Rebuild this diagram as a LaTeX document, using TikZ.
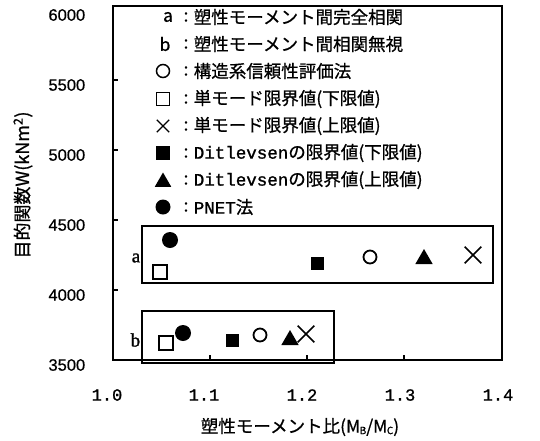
\documentclass[tikz,border=0pt]{standalone}
\usepackage{fontspec}
\setmainfont{Noto Sans CJK JP}[FakeBold=0.8]
\newfontfamily\monofont{Liberation Mono}[FakeBold=1.2]
\newfontfamily\numfont{Liberation Sans}[FakeBold=0.6]
\newfontfamily\serfont{Liberation Serif}[FakeBold=1.2]
\usetikzlibrary{shapes.geometric, shapes.misc}

\begin{document}
\begin{tikzpicture}[
x=1pt, y=-1pt,
line width=1.6pt,
every node/.style={inner sep=0pt},
legtext/.style={
anchor=west,
font=\fontsize{17.5}{20}\selectfont,
},
ticklabel/.style={font=\numfont\fontsize{16.5}{18}\selectfont},
xticklabel/.style={font=\monofont\fontsize{17}{18}\selectfont},
opendot/.style={circle, draw, line width=1.8pt, minimum size=13pt},
filldot/.style={circle, fill, minimum size=16pt},
opensq/.style={rectangle, draw, line width=1.6pt, minimum size=14pt},
fillsq/.style={rectangle, fill, minimum size=13pt},
filltri/.style={regular polygon, regular polygon sides=3, fill, minimum size=20pt},
xmark/.style={cross out, draw, line width=1.7pt, minimum size=15pt},
]
\useasboundingbox (0,0) rectangle (540,440);

% axes frame and ticks
\draw (113,6) rectangle (502,360);
\draw
(113,80) -- +(5,0)
(113,150) -- +(5,0)
(113,220) -- +(5,0)
(113,290) -- +(5,0)
(210,360) -- +(0,-5)
(307,360) -- +(0,-5)
(404,360) -- +(0,-5)
;

% tick labels
\path
(86,365) node[ticklabel, anchor=east] (y3500) {3500}
(86,295) node[ticklabel, anchor=east] (y4000) {4000}
(86,225) node[ticklabel, anchor=east] (y4500) {4500}
(86,155) node[ticklabel, anchor=east] (y5000) {5000}
(86,85) node[ticklabel, anchor=east] (y5500) {5500}
(86,15) node[ticklabel, anchor=east] (y6000) {6000}
(107,395) node[xticklabel] (x10) {1.0}
(204,395) node[xticklabel] (x11) {1.1}
(302,395) node[xticklabel] (x12) {1.2}
(400,395) node[xticklabel] (x13) {1.3}
(498,395) node[xticklabel] (x14) {1.4}
;

% axis titles
\node[font=\fontsize{17.5}{20}\selectfont] at (300,427) (xtitle)
{塑性モーメント比(M\kern-0.5pt\raisebox{-1.5pt}{\fontsize{10}{10}\selectfont B}/M\kern-0.5pt\raisebox{-1.5pt}{\fontsize{10}{10}\selectfont C})};
\node[font=\fontsize{18}{20}\selectfont, rotate=90] at (23,185) (ytitle)
{目的関数W(kNm\textsuperscript{2})};

% legend
\node[font=\fontsize{17.5}{20}\selectfont] at (168,17) (legA) {a};
\node[font=\fontsize{17.5}{20}\selectfont] at (165,44) (legB) {b};
\node[opendot, line width=1.5pt] at (163,71) (legCirc) {};
\node[opensq, line width=1.4pt, minimum size=13pt] at (163,99) (legSq) {};
\node[xmark, line width=1.4pt, minimum size=11pt] at (163,126) (legX) {};
\node[fillsq, minimum size=14pt] at (163,153) (legFsq) {};
\node[filltri, minimum size=19pt] at (163,182) (legTri) {};
\node[filldot, minimum size=15pt] at (163,207) (legDot) {};

\path
(186,17) node[legtext, anchor=center] {:}
(186,44) node[legtext, anchor=center] {:}
(186,71) node[legtext, anchor=center] {:}
(186,99) node[legtext, anchor=center] {:}
(186,126) node[legtext, anchor=center] {:}
(186,153) node[legtext, anchor=center] {:}
(186,180) node[legtext, anchor=center] {:}
(186,207) node[legtext, anchor=center] {:}
;
\path
(193,17) node[legtext] (txtA) {塑性モーメント間完全相関}
(193,44) node[legtext] (txtB) {塑性モーメント間相関無視}
(193,71) node[legtext] (txtCirc) {構造系信頼性評価法}
(193,99) node[legtext] (txtSq) {単モード限界値(下限値)}
(193,126) node[legtext] (txtX) {単モード限界値(上限値)}
(193,153) node[legtext] (txtFsq) {{\monofont Ditlevsen}の限界値(下限値)}
(193,180) node[legtext] (txtTri) {{\monofont Ditlevsen}の限界値(上限値)}
(193,207) node[legtext] (txtDot) {{\monofont PNET}法}
;

% group a
\draw (142,226) rectangle (493,283);
\node[font=\serfont\fontsize{19}{20}\selectfont, anchor=east] at (141,258) (grpA) {a};
\node[filldot] at (170,240) (aDot) {};
\node[opensq] at (160,272) (aSq) {};
\node[fillsq] at (317,263) (aFsq) {};
\node[opendot] at (370,257) (aCirc) {};
\node[filltri] at (424,259) (aTri) {};
\node[xmark] at (473,255) (aX) {};

% group b
\draw (142,311) rectangle (334,363);
\node[font=\serfont\fontsize{19}{20}\selectfont, anchor=east] at (141,340) (grpB) {b};
\node[opensq] at (166,343) (bSq) {};
\node[filldot] at (183,333) (bDot) {};
\node[fillsq] at (232,340) (bFsq) {};
\node[opendot] at (260,335) (bCirc) {};
\node[filltri] at (290,340) (bTri) {};
\node[xmark] at (306,334) (bX) {};

\end{tikzpicture}
\end{document}
